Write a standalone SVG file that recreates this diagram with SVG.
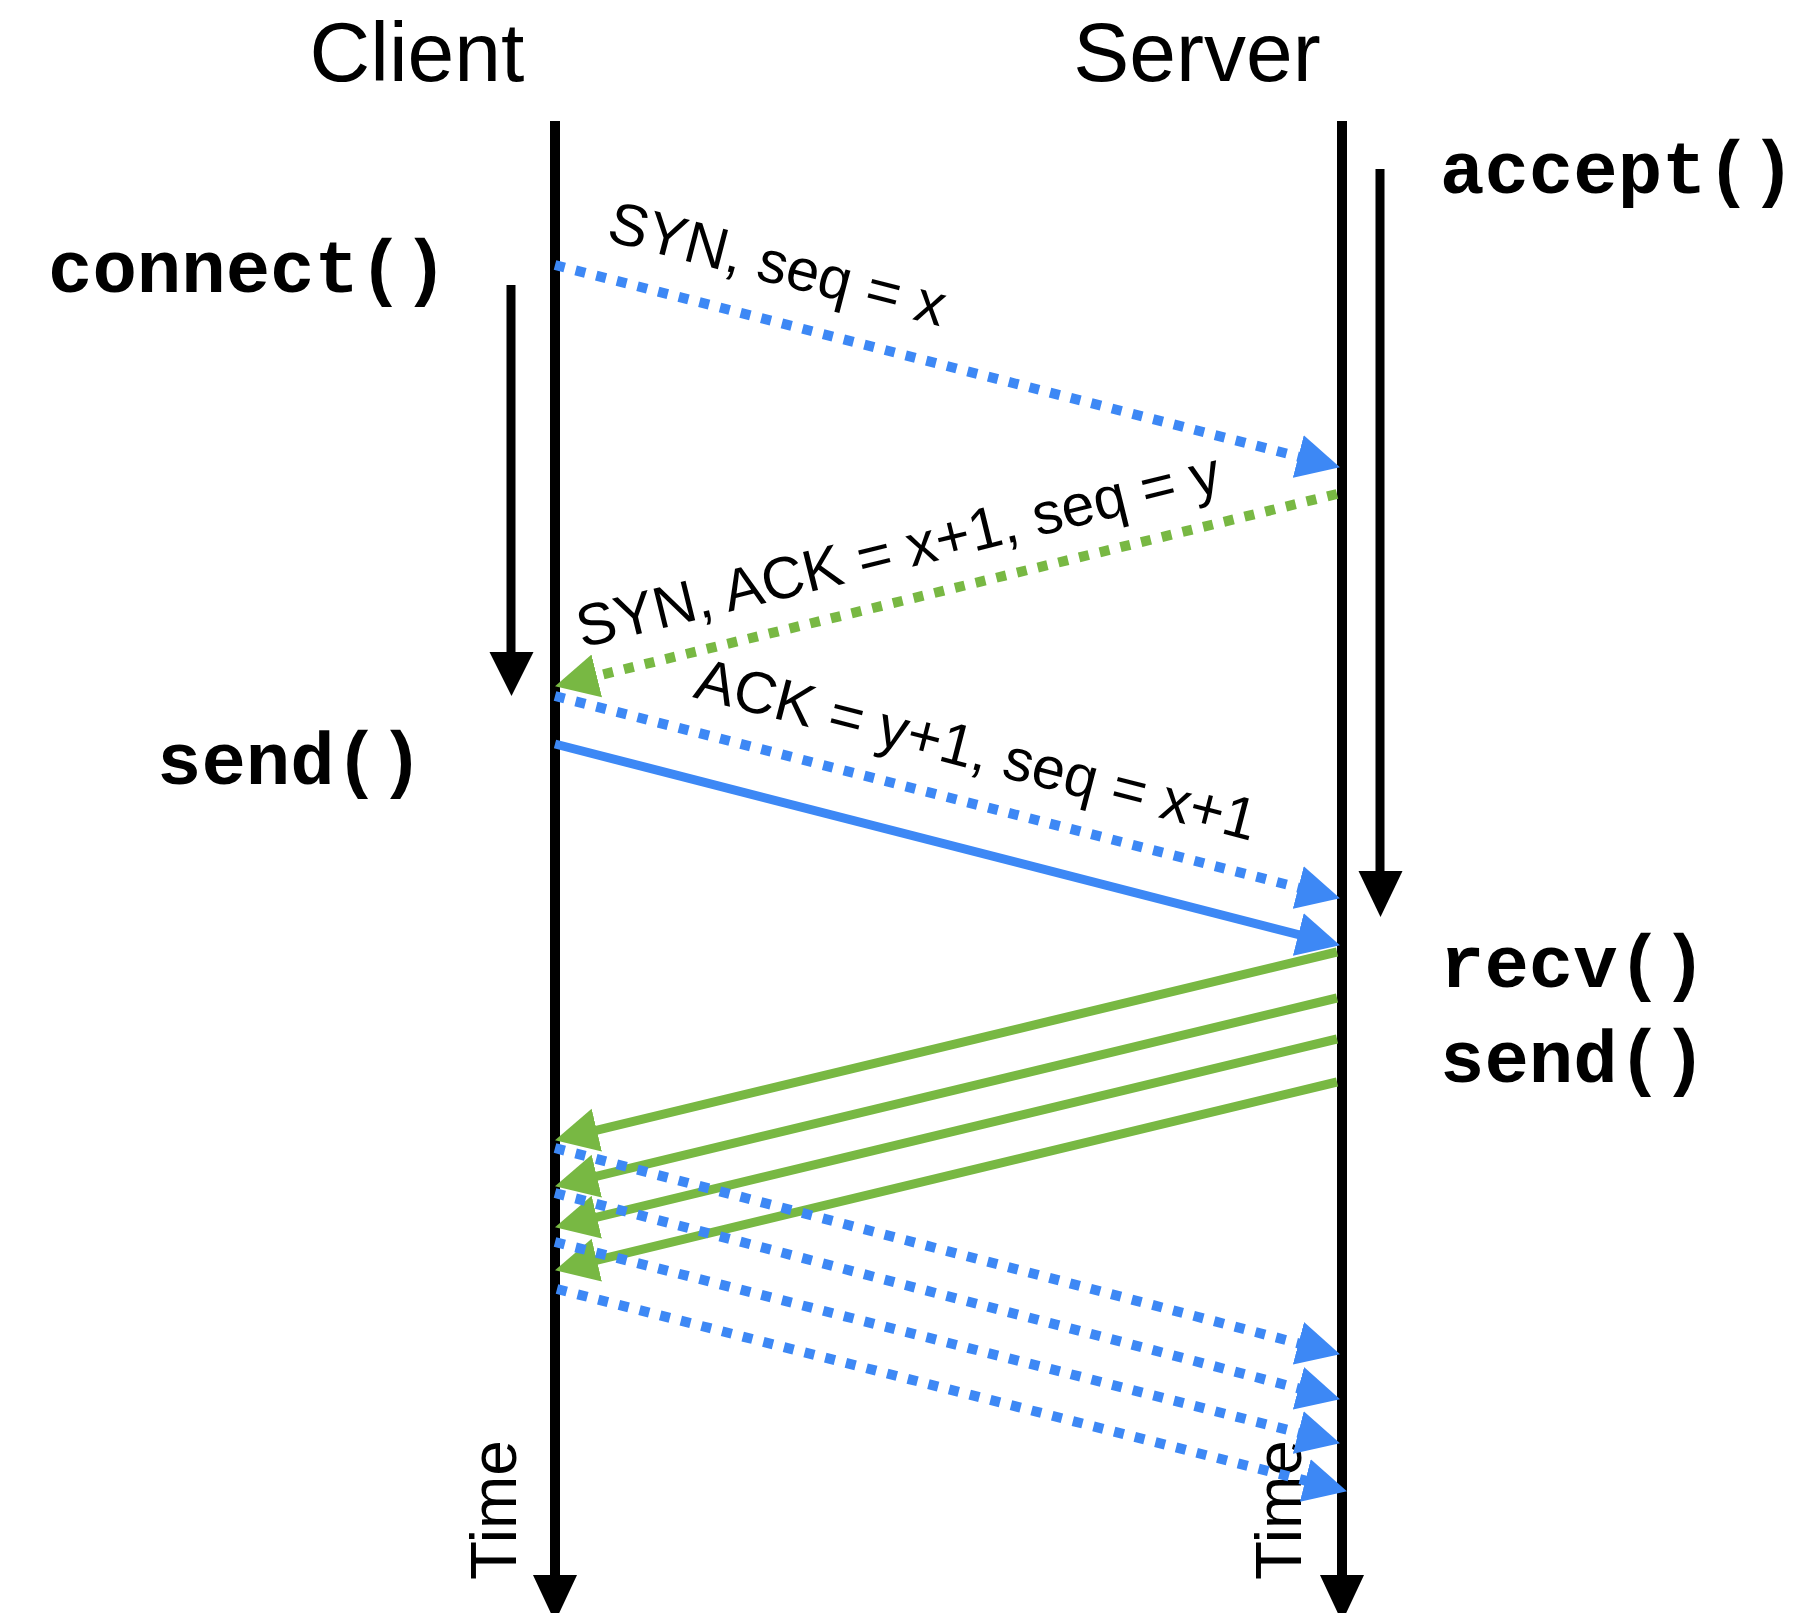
<svg xmlns="http://www.w3.org/2000/svg" width="1809" height="1613" viewBox="0 0 1809 1613">
<style>
.title{font-family:"Liberation Sans",Arial,sans-serif;font-size:84px;fill:#000}
.fn{font-family:"Liberation Mono","Courier New",monospace;font-weight:bold;font-size:74px;fill:#000}
.lbl{font-family:"Liberation Sans",Arial,sans-serif;font-size:59px;fill:#000}
.time{font-family:"Liberation Sans",Arial,sans-serif;font-size:64px;fill:#000}
.life{stroke:#000;stroke-width:10;fill:none}
.call{stroke:#000;stroke-width:9;fill:none}
.blue{stroke:#3D88F5;stroke-width:9;fill:none}
.green{stroke:#78B843;stroke-width:9;fill:none}
.dot{stroke-width:10;stroke-dasharray:10 11.3}
</style>
<defs>
<marker id="ab" markerUnits="userSpaceOnUse" markerWidth="46" markerHeight="46" refX="22" refY="22" orient="auto" viewBox="0 0 46 44">
<path d="M0,0 L43,22 L0,44 z" fill="#3D88F5"/>
</marker>
<marker id="ag" markerUnits="userSpaceOnUse" markerWidth="46" markerHeight="46" refX="22" refY="22" orient="auto" viewBox="0 0 46 44">
<path d="M0,0 L43,22 L0,44 z" fill="#78B843"/>
</marker>
</defs>
<rect width="1809" height="1613" fill="#fff"/>
<g id="client">
<text class="title" x="417" y="81" text-anchor="middle">Client</text>
<line class="life" x1="555" y1="121" x2="555" y2="1580"/>
<polygon points="533,1575 577,1575 555,1622" fill="#000"/>
<text class="time" transform="translate(516,1580) rotate(-90)">Time</text>
</g>
<g id="server">
<text class="title" x="1197" y="81" text-anchor="middle">Server</text>
<line class="life" x1="1342" y1="121" x2="1342" y2="1580"/>
<polygon points="1320,1575 1364,1575 1342,1622" fill="#000"/>
<text class="time" transform="translate(1301,1580) rotate(-90)">Time</text>
</g>
<g id="connect-call">
<text class="fn" x="48" y="292">connect()</text>
<line class="call" x1="511" y1="285" x2="511" y2="656"/>
<polygon points="489.5,652 533.5,652 511.5,696" fill="#000"/>
</g>
<g id="accept-call">
<text class="fn" x="1440" y="193">accept()</text>
<line class="call" x1="1380" y1="169" x2="1380" y2="875"/>
<polygon points="1358.5,871 1402.5,871 1380.5,917" fill="#000"/>
</g>
<g id="client-send-call">
<text class="fn" x="157" y="784">send()</text>
</g>
<g id="server-recv-send-call">
<text class="fn" x="1440" y="987">recv()</text>
<text class="fn" x="1440" y="1082">send()</text>
</g>
<g id="connectors">
<path class="blue dot" d="M555,265 L1319.6,462" marker-end="url(#ab)"/>
<path class="green dot" d="M1337,494 L575.4,681.2" marker-end="url(#ag)"/>
<path class="blue dot" d="M555,696 L1319.6,893" marker-end="url(#ab)"/>
<path class="blue" d="M555,744 L1319.6,940" marker-end="url(#ab)"/>
<path class="green" d="M1337,952 L575.4,1135.3" marker-end="url(#ag)"/>
<path class="green" d="M1337,998 L575.4,1181.3" marker-end="url(#ag)"/>
<path class="green" d="M1337,1039 L575.4,1222.3" marker-end="url(#ag)"/>
<path class="green" d="M1337,1082 L575.4,1265.3" marker-end="url(#ag)"/>
<path class="blue dot" d="M555,1148 L1319.7,1348.9" marker-end="url(#ab)"/>
<path class="blue dot" d="M555,1193 L1319.7,1393.9" marker-end="url(#ab)"/>
<path class="blue dot" d="M555,1242 L1319.6,1438" marker-end="url(#ab)"/>
<path class="blue dot" d="M557,1289 L1326.6,1486" marker-end="url(#ab)"/>
</g>
<g id="connector-labels">
<text class="lbl" transform="translate(605,240) rotate(14.45)">SYN, seq = x</text>
<text class="lbl" transform="translate(582,648) rotate(-13.8)">SYN, ACK = x+1, seq = y</text>
<text class="lbl" transform="translate(692,697) rotate(14.45)">ACK = y+1, seq = x+1</text>
</g>
</svg>
